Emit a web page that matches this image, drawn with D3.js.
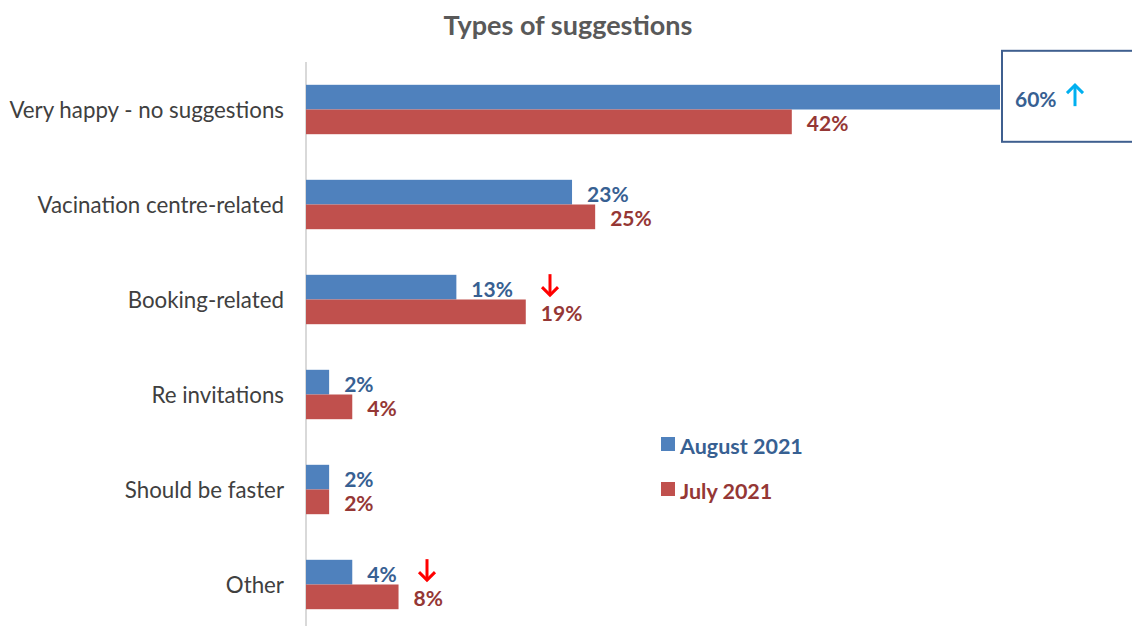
<!DOCTYPE html>
<html>
<head>
<meta charset="utf-8">
<script src="https://cdn.jsdelivr.net/npm/d3@7"></script>
<style>
  html, body { margin: 0; padding: 0; background: #ffffff; }
  svg text { font-family: Lato, "Open Sans", sans-serif; }
</style>
</head>
<body>
<svg id="chart" width="1132" height="626"></svg>
<script>
// Chart data
const categories = ["Very happy - no suggestions", "Vacination centre-related", "Booking-related",
                    "Re invitations", "Should be faster", "Other"];
const august2021 = [60, 23, 13, 2, 2, 4];
const july2021 = [42, 25, 19, 4, 2, 8];
const seriesNames = ["August 2021", "July 2021"];
// Trend markers: category, direction
const trendMarks = [
  { cat: "Very happy - no suggestions", dir: "up" },
  { cat: "Booking-related", dir: "down" },
  { cat: "Other", dir: "down" }
];

const svg = d3.select("#chart");
const barColors = ["#4f81bd", "#c0504d"];
const labelColors = ["#376092", "#953735"];

const x = d3.scaleLinear().domain([0, 60]).range([306, 1000]);
const y = d3.scaleBand().domain(categories).range([62, 632]).paddingInner(0.48).paddingOuter(0.24);
const sub = d3.scaleBand().domain(seriesNames).range([0, y.bandwidth()]);

// Title
svg.append("text")
  .attr("x", 568).attr("y", 35)
  .attr("text-anchor", "middle")
  .attr("font-size", 27).attr("font-weight", "bold")
  .attr("fill", "#595959")
  .text("Types of suggestions");

// Category axis
const axis = d3.axisLeft(y).tickSize(0).tickPadding(22);
const gAxis = svg.append("g").attr("transform", "translate(306,0)").call(axis);
gAxis.select(".domain").attr("stroke", "#d9d9d9").attr("stroke-width", 2)
  .attr("d", "M0,62V626");
gAxis.selectAll("text").attr("font-size", 22.3).attr("fill", "#404040")
  .attr("font-family", "Lato, 'Open Sans', sans-serif")
  .attr("dy", "0.4em");

// Highlight box around the top value
const topY = y(categories[0]);
svg.append("rect")
  .attr("x", 1002).attr("y", topY - 34)
  .attr("width", 140).attr("height", 91)
  .attr("fill", "#ffffff")
  .attr("stroke", "#3f5f8f").attr("stroke-width", 2);

// Bars and value labels
const rows = categories.map((c, i) => ({ cat: c, vals: [august2021[i], july2021[i]] }));
rows.forEach(r => {
  r.vals.forEach((v, s) => {
    const y0 = y(r.cat) + sub(seriesNames[s]);
    svg.append("rect")
      .attr("x", x(0)).attr("y", y0)
      .attr("width", x(v) - x(0)).attr("height", sub.bandwidth())
      .attr("fill", barColors[s]);
    svg.append("text")
      .attr("x", x(v) + 15)
      .attr("y", y0 + sub.bandwidth() / 2 + 2)
      .attr("dy", "0.36em")
      .attr("font-size", 21).attr("font-weight", "bold")
      .attr("fill", labelColors[s])
      .text(v + "%");
  });
});

// Trend arrows
function arrow(cx, cy, dir, color) {
  const g = svg.append("g").attr("stroke", color).attr("stroke-width", 3)
    .attr("fill", "none").attr("stroke-linecap", "butt");
  const s = dir === "up" ? -1 : 1;
  g.append("line").attr("x1", cx).attr("x2", cx).attr("y1", cy - s * 11).attr("y2", cy + s * 10);
  g.append("polyline").attr("points", `${cx - 8},${cy + s * 2} ${cx},${cy + s * 10} ${cx + 8},${cy + s * 2}`);
}
const arrowX = { "Very happy - no suggestions": 1075, "Booking-related": 550, "Other": 427 };
trendMarks.forEach(t => {
  const cy = y(t.cat) + sub.bandwidth() / 2 - 2;
  arrow(arrowX[t.cat], cy, t.dir, t.dir === "up" ? "#00b0f0" : "#ff0000");
});

// Legend
const legend = svg.append("g").attr("transform", "translate(661,437)");
seriesNames.forEach((n, i) => {
  const g = legend.append("g").attr("transform", `translate(0,${i * 45})`);
  g.append("rect").attr("width", 14).attr("height", 14).attr("fill", barColors[i]);
  g.append("text").attr("x", 19).attr("y", 9).attr("dy", "0.36em")
    .attr("font-size", 21.5).attr("font-weight", "bold")
    .attr("fill", labelColors[i]).text(n);
});
</script>
</body>
</html>
